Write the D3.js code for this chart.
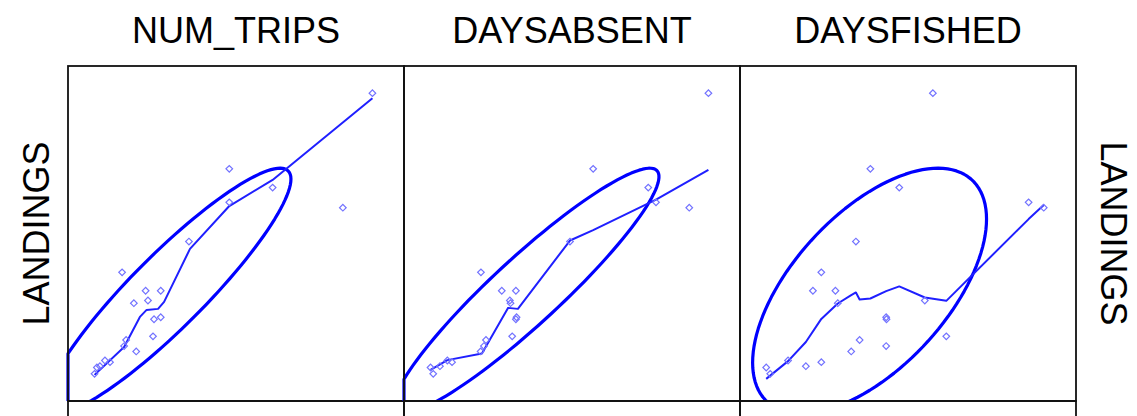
<!DOCTYPE html>
<html>
<head>
<meta charset="utf-8">
<script src="https://cdn.jsdelivr.net/npm/d3@7"></script>
<style>
  html, body { margin: 0; padding: 0; background: #fff; }
  svg { display: block; }
</style>
</head>
<body>
<svg id="chart" width="1137" height="416"></svg>
<script>
// Variables across the top, response on the rows
const columns = ["NUM_TRIPS", "DAYSABSENT", "DAYSFISHED"];
const rowName = "LANDINGS";

// Observations (relative units, 0-100 on every axis)
const landings   = [91.9, 69.3, 63.7, 59.3, 57.7, 47.6, 38.4, 32.9, 32.9, 30.0, 29.2, 25.0, 24.4, 19.3, 18.2, 16.4, 14.8, 12.1, 11.6, 10.4, 10.0, 8.1];
const numTrips   = [90.6, 48.0, 60.9, 48.0, 81.8, 36.0, 16.1, 23.1, 27.6, 23.8, 19.6, 27.6, 25.6, 25.3, 17.3, 16.7, 20.3, 11.0, 12.5, 9.5, 8.6, 7.9];
const daysAbsent = [90.6, 56.3, 72.7, 75.0, 84.9, 49.4, 22.9, 29.1, 33.3, 31.5, 31.7, 33.5, 33.3, 32.2, 24.4, 23.8, 22.8, 12.9, 14.3, 10.7, 7.9, 8.7];
const daysFished = [57.4, 38.8, 47.4, 85.9, 90.4, 34.5, 24.2, 21.7, 28.4, 55.0, 29.1, 43.5, 43.6, 61.4, 35.6, 43.5, 33.1, 14.3, 24.2, 19.6, 7.8, 9.0];

// Locally weighted smooth of LANDINGS on each variable: [x, fitted y]
const smoothNumTrips = [[7.9, 7.8], [16.7, 16.1], [21.4, 25.1], [23.4, 27.2], [26.8, 27.5], [28.6, 29.6], [36.3, 45.4], [48.0, 58.2], [60.9, 66.0], [90.6, 90.4]];
const smoothDaysAbsent = [[7.9, 9.3], [12.9, 12.2], [23.2, 14.2], [31.0, 27.8], [33.9, 27.5], [49.4, 47.9], [56.3, 51.0], [75.0, 60.1], [90.6, 69.0]];
const smoothDaysFished = [[7.8, 6.6], [14.3, 11.9], [19.6, 17.6], [24.2, 24.5], [29.1, 29.1], [33.1, 31.6], [34.5, 32.4], [35.6, 30.3], [38.8, 30.6], [43.5, 32.8], [47.4, 34.2], [55.0, 30.9], [61.4, 29.9], [85.9, 54.3], [90.4, 58.5]];

const axisDomain = [0, 100];
const ellipseRadius = 1.6;   // ellipse drawn at this many standard deviations

const columnValues = [numTrips, daysAbsent, daysFished];
const columnSmooth = [smoothNumTrips, smoothDaysAbsent, smoothDaysFished];

// ---- layout ----
const svg = d3.select("#chart");
const panelLeft = 68, panelRight = 1076, panelTop = 66, panelBottom = 401;
const blue = "#0000ff";
const font = "'Liberation Sans', Arial, sans-serif";

const panelX = d3.scaleBand().domain(columns).range([panelLeft, panelRight]).padding(0);
const panelW = panelX.bandwidth();
const y = d3.scaleLinear().domain(axisDomain).range([panelBottom, panelTop]);

function correlation(a, b) {
  const ma = d3.mean(a), mb = d3.mean(b);
  let sab = 0, saa = 0, sbb = 0;
  for (let i = 0; i < a.length; i++) {
    const da = a[i] - ma, db = b[i] - mb;
    sab += da * db; saa += da * da; sbb += db * db;
  }
  return sab / Math.sqrt(saa * sbb);
}

// Sutherland–Hodgman polygon clipping to a rectangle
function clipToRect(pts, x0, y0, x1, y1) {
  const planes = [
    [p => p[0] >= x0, (a, b) => { const t = (x0 - a[0]) / (b[0] - a[0]); return [x0, a[1] + t * (b[1] - a[1])]; }],
    [p => p[0] <= x1, (a, b) => { const t = (x1 - a[0]) / (b[0] - a[0]); return [x1, a[1] + t * (b[1] - a[1])]; }],
    [p => p[1] >= y0, (a, b) => { const t = (y0 - a[1]) / (b[1] - a[1]); return [a[0] + t * (b[0] - a[0]), y0]; }],
    [p => p[1] <= y1, (a, b) => { const t = (y1 - a[1]) / (b[1] - a[1]); return [a[0] + t * (b[0] - a[0]), y1]; }]
  ];
  let out = pts;
  for (const [inside, cut] of planes) {
    const input = out;
    out = [];
    if (!input.length) break;
    let prev = input[input.length - 1];
    for (const cur of input) {
      if (inside(cur)) {
        if (!inside(prev)) out.push(cut(prev, cur));
        out.push(cur);
      } else if (inside(prev)) {
        out.push(cut(prev, cur));
      }
      prev = cur;
    }
  }
  return out;
}

const diamond = d3.symbol().type(d3.symbolSquare).size(22);
const lineGen = d3.line();
const closedLine = d3.line().curve(d3.curveLinearClosed);
const defs = svg.append("defs");

columns.forEach((name, ci) => {
  const xs = columnValues[ci];
  const x0 = panelX(name);
  const x = d3.scaleLinear().domain(axisDomain).range([x0, x0 + panelW]);

  defs.append("clipPath").attr("id", `clip-${ci}`)
    .append("rect")
    .attr("x", x0 - 3).attr("y", panelTop - 3)
    .attr("width", panelW + 6).attr("height", panelBottom - panelTop + 3);

  const g = svg.append("g").attr("class", "panel").attr("clip-path", `url(#clip-${ci})`);

  // correlation ellipse (polygon clipped to the panel on left, right and top)
  const mx = d3.mean(xs), sdx = d3.deviation(xs);
  const my = d3.mean(landings), sdy = d3.deviation(landings);
  const r = correlation(xs, landings);
  const a = Math.sqrt((1 + r) / 2), b = Math.sqrt((1 - r) / 2);
  const ring = d3.range(0, 120).map(i => {
    const t = i / 120 * 2 * Math.PI;
    const ex = mx + ellipseRadius * sdx * (Math.cos(t) * a - Math.sin(t) * b);
    const ey = my + ellipseRadius * sdy * (Math.cos(t) * a + Math.sin(t) * b);
    return [x(ex), y(ey)];
  });
  const clipped = clipToRect(ring, x0, panelTop, x0 + panelW, panelBottom + 20);
  g.append("path")
    .attr("d", closedLine(clipped))
    .attr("fill", "none")
    .attr("stroke", blue)
    .attr("stroke-width", 3.2)
    .attr("stroke-linejoin", "round");

  // smooth
  g.append("path")
    .attr("d", lineGen(columnSmooth[ci].map(d => [x(d[0]), y(d[1])])))
    .attr("fill", "none")
    .attr("stroke", "#1f1fff")
    .attr("stroke-width", 2)
    .attr("stroke-linejoin", "round");

  // points
  g.selectAll("path.pt")
    .data(xs.map((v, i) => [v, landings[i]]))
    .join("path")
    .attr("class", "pt")
    .attr("d", diamond)
    .attr("transform", d => `translate(${x(d[0])},${y(d[1])}) rotate(45)`)
    .attr("fill", "none")
    .attr("stroke", "#7373ff")
    .attr("stroke-width", 1.2);

  // panel frame, plus the top edge of the row below
  svg.append("rect")
    .attr("x", x0).attr("y", panelTop)
    .attr("width", panelW).attr("height", panelBottom - panelTop)
    .attr("fill", "none").attr("stroke", "#111").attr("stroke-width", 1.8);
  svg.append("rect")
    .attr("x", x0).attr("y", panelBottom)
    .attr("width", panelW).attr("height", panelBottom - panelTop)
    .attr("fill", "none").attr("stroke", "#111").attr("stroke-width", 1.8);

  // column label
  svg.append("text")
    .attr("x", x0 + panelW / 2)
    .attr("y", 43)
    .attr("text-anchor", "middle")
    .attr("font-family", font)
    .attr("font-size", 36)
    .attr("fill", "#000")
    .text(name);
});

// row labels, left and right
const midY = (panelTop + panelBottom) / 2;
svg.append("text")
  .attr("transform", `translate(49,${midY}) rotate(-90)`)
  .attr("text-anchor", "middle")
  .attr("font-family", font)
  .attr("font-size", 36)
  .attr("fill", "#000")
  .text(rowName);
svg.append("text")
  .attr("transform", `translate(1101,${midY}) rotate(90)`)
  .attr("text-anchor", "middle")
  .attr("font-family", font)
  .attr("font-size", 36)
  .attr("fill", "#000")
  .text(rowName);
</script>
</body>
</html>
